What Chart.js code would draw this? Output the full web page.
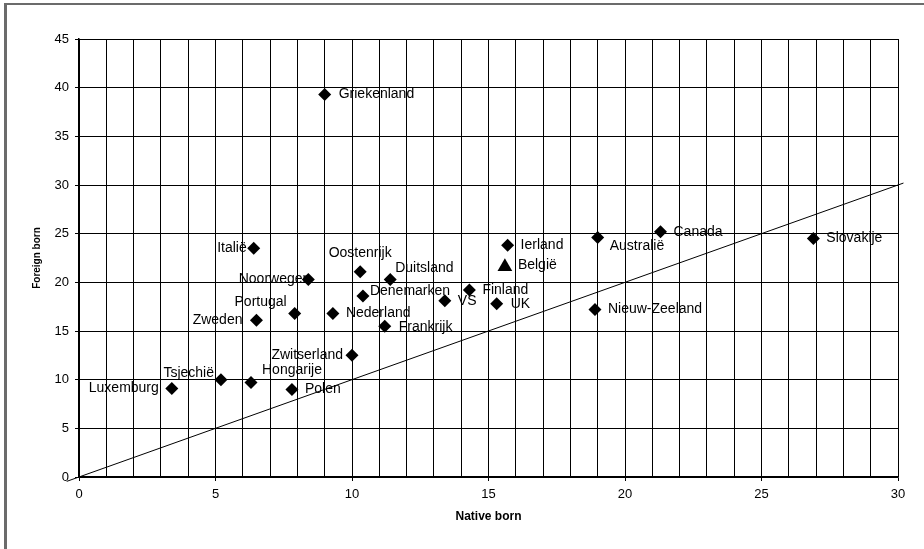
<!DOCTYPE html>
<html>
<head>
<meta charset="utf-8">
<script src="https://cdn.jsdelivr.net/npm/chart.js@4/dist/chart.umd.min.js"></script>
<style>
  html, body { margin: 0; padding: 0; background: #fff; }
  #wrap { position: relative; width: 924px; height: 549px; overflow: hidden; }
  #chart { position: absolute; left: 0; top: 0; }
  .frameTop { position: absolute; left: 4px; top: 3px; width: 920px; height: 2px; background: #6b6b6b; }
  .frameLeft { position: absolute; left: 4px; top: 3px; width: 3px; height: 546px; background: #6b6b6b; }
</style>
</head>
<body>
<div id="wrap">
  <canvas id="chart" width="924" height="549"></canvas>
  <div class="frameTop"></div>
  <div class="frameLeft"></div>
</div>
<script>
// Landen, native born (x) en foreign born (y)
const countries = ['Griekenland', 'Italië', 'Oostenrijk', 'Duitsland', 'Noorwegen', 'Denemarken',
  'Finland', 'VS', 'UK', 'Portugal', 'Nederland', 'Zweden', 'Frankrijk', 'Zwitserland',
  'Tsjechië', 'Hongarije', 'Luxemburg', 'Polen', 'Ierland', 'België', 'Australië',
  'Canada', 'Slovakije', 'Nieuw-Zeeland'];
const nativeBorn = [9.0, 6.4, 10.3, 11.4, 8.4, 10.4,
  14.3, 13.4, 15.3, 7.9, 9.3, 6.5, 11.2, 10.0,
  5.2, 6.3, 3.4, 7.8, 15.7, 15.6, 19.0,
  21.3, 26.9, 18.9];
const foreignBorn = [39.3, 23.5, 21.1, 20.3, 20.3, 18.6,
  19.2, 18.1, 17.8, 16.8, 16.8, 16.1, 15.5, 12.5,
  10.0, 9.7, 9.1, 9.0, 23.8, 21.6, 24.6,
  25.2, 24.5, 17.2];
const highlighted = 'België';

// 45-graden lijn (y = x)
const diagX = [-0.45, 30.2];

const xTicks = [0, 5, 10, 15, 20, 25, 30];

// label-positie t.o.v. het punt: [dx, dy, uitlijning]
const labelPos = {
  'Griekenland': [14, 0, 'left'], 'Italië': [-7, 0, 'right'], 'Oostenrijk': [0, -18, 'center'],
  'Duitsland': [5, -11, 'left'], 'Noorwegen': [2, 0, 'right'], 'Denemarken': [7, -5, 'left'],
  'Finland': [13, 0, 'left'], 'VS': [13, 0, 'left'], 'UK': [14, 0, 'left'],
  'Portugal': [-8, -11, 'right'], 'Nederland': [13, 0, 'left'], 'Zweden': [-14, 0, 'right'],
  'Frankrijk': [14, 1, 'left'], 'Zwitserland': [-9, 0, 'right'], 'Tsjechië': [-7, -7, 'right'],
  'Hongarije': [11, -12, 'left'], 'Luxemburg': [-13, 0, 'right'], 'Polen': [13, 0, 'left'],
  'Ierland': [13, 0, 'left'], 'België': [13, -2, 'left'], 'Australië': [12, 9, 'left'],
  'Canada': [13, 0, 'left'], 'Slovakije': [13, 0, 'left'], 'Nieuw-Zeeland': [13, 0, 'left']
};

const allPoints = countries.map((c, i) => ({ x: nativeBorn[i], y: foreignBorn[i], name: c }));
const diamonds = allPoints.filter(p => p.name !== highlighted);
const triangles = allPoints.filter(p => p.name === highlighted);

// namen naast de punten tekenen
const pointLabels = {
  id: 'pointLabels',
  beforeDatasetsDraw(chart) {
    const ctx = chart.ctx;
    const xs = chart.scales.x, ys = chart.scales.y;
    ctx.save();
    ctx.font = '14px "Liberation Sans", Arial, sans-serif';
    ctx.fillStyle = '#000';
    ctx.textBaseline = 'middle';
    allPoints.forEach(p => {
      const pos = labelPos[p.name] || [12, 0, 'left'];
      ctx.textAlign = pos[2];
      ctx.fillText(p.name, xs.getPixelForValue(p.x) + pos[0], ys.getPixelForValue(p.y) + pos[1]);
    });
    ctx.restore();
  }
};

new Chart(document.getElementById('chart'), {
  type: 'scatter',
  data: {
    datasets: [
      {
        type: 'line',
        data: diagX.map(v => ({ x: v, y: v })),
        borderColor: '#000',
        borderWidth: 1,
        pointRadius: 0,
        fill: false,
        clip: false
      },
      {
        data: diamonds,
        pointStyle: 'rectRot',
        pointRadius: 6.5,
        backgroundColor: '#000',
        borderColor: '#000',
        borderWidth: 0
      },
      {
        data: triangles,
        pointStyle: 'triangle',
        pointRadius: 8.5,
        backgroundColor: '#000',
        borderColor: '#000',
        borderWidth: 0
      }
    ]
  },
  options: {
    responsive: false,
    animation: false,
    layout: { padding: { left: 0, top: 39, right: 26, bottom: 0 } },
    plugins: {
      legend: { display: false },
      tooltip: { enabled: false }
    },
    scales: {
      x: {
        type: 'linear',
        min: 0,
        max: 30,
        afterFit: s => { s.height = 72; },
        afterBuildTicks: s => {
          const t = [];
          for (let v = 0; v <= 30; v++) t.push({ value: v });
          s.ticks = t;
        },
        ticks: {
          autoSkip: false,
          maxRotation: 0,
          padding: 6,
          color: '#000',
          font: { family: '"Liberation Sans Narrow", "Liberation Sans", Arial', size: 13 },
          callback: v => (xTicks.includes(v) ? String(v) : '')
        },
        grid: {
          color: '#000',
          lineWidth: 1,
          tickLength: 4,
          tickColor: c => (xTicks.includes(c.tick.value) ? '#000' : 'rgba(0,0,0,0)')
        },
        border: { color: '#000', width: 1.5 },
        title: {
          display: true,
          text: 'Native born',
          color: '#000',
          font: { family: '"Liberation Sans Narrow", "Liberation Sans", Arial', size: 12, weight: 'bold' },
          padding: { top: 0, bottom: 25 }
        }
      },
      y: {
        min: 0,
        max: 45,
        afterFit: s => { s.width = 79; },
        ticks: {
          stepSize: 5,
          padding: 6,
          color: '#000',
          font: { family: '"Liberation Sans", Arial', size: 13 }
        },
        grid: { color: '#000', lineWidth: 1, tickLength: 4, tickColor: '#000' },
        border: { color: '#000', width: 1.5 },
        title: {
          display: true,
          text: 'Foreign born',
          color: '#000',
          font: { family: '"Liberation Sans", Arial', size: 10, weight: 'bold' },
          padding: { top: 31, bottom: 0 }
        }
      }
    }
  },
  plugins: [pointLabels]
});
</script>
</body>
</html>
